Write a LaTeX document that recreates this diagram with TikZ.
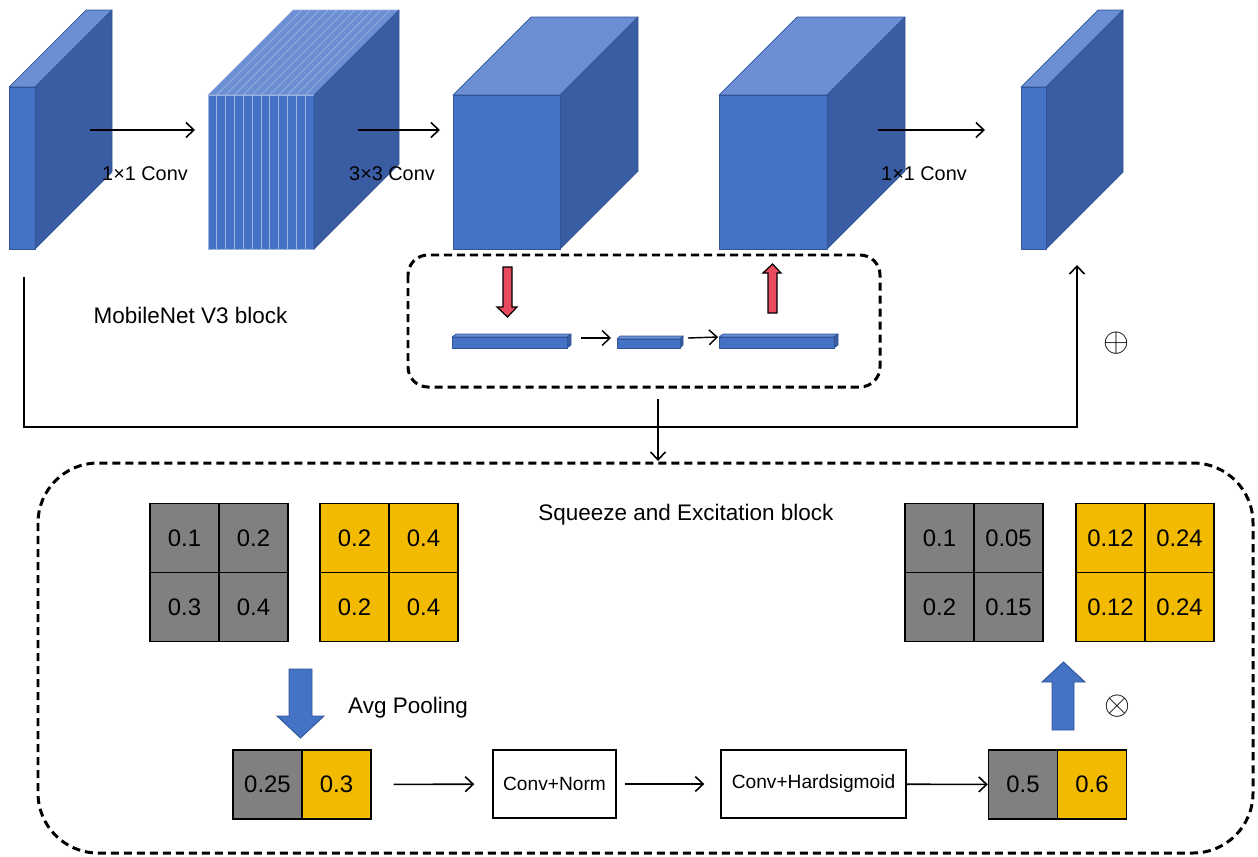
\documentclass[tikz,border=0pt]{standalone}
\usepackage{fontspec}
\setmainfont{Liberation Sans}
\usetikzlibrary{arrows.meta}

\definecolor{cubefront}{HTML}{4472C4}
\definecolor{cubetop}{HTML}{6B8ED5}
\definecolor{cubeside}{HTML}{3A5CA3}
\definecolor{cubeedge}{HTML}{2F5597}
\definecolor{layeredge}{HTML}{9DB4E0}
\definecolor{cellgray}{HTML}{808080}
\definecolor{cellgold}{HTML}{F2BA00}
\definecolor{arrowred}{HTML}{E84A5F}

\begin{document}
\begin{tikzpicture}[x=0.02cm,y=-0.02cm,
  >={Straight Barb[length=4.5pt,width=8.5pt]},
  conn/.style={->,line width=0.9pt},
  wire/.style={line width=0.9pt},
  front/.style={fill=cubefront,draw=cubeedge,line width=0.4pt,line join=round},
  top/.style={fill=cubetop,draw=cubeedge,line width=0.4pt,line join=round},
  side/.style={fill=cubeside,draw=cubeedge,line width=0.4pt,line join=round},
  layerfront/.style={fill=cubefront,draw=layeredge,line width=0.35pt},
  layertop/.style={fill=cubetop,draw=layeredge,line width=0.35pt},
  frame/.style={draw=black,dash pattern=on 4.6pt off 2.8pt,line width=1.7pt},
  fatred/.style={fill=arrowred,draw=black,line width=0.7pt,line join=miter},
  fatblue/.style={fill=cubefront,draw=cubeedge,line width=0.5pt},
  cell/.style={draw=black,line width=0.8pt,minimum width=1.38cm,minimum height=1.38cm,inner sep=0pt,font=\fontsize{13.6}{16}\selectfont},
  grey/.style={cell,fill=cellgray},
  gold/.style={cell,fill=cellgold},
  opbox/.style={draw=black,fill=white,line width=0.8pt,minimum height=1.36cm,inner sep=0pt,font=\fontsize{10.9}{13}\selectfont},
  convlabel/.style={anchor=base,font=\fontsize{11.3}{13}\selectfont},
  title/.style={anchor=base,font=\fontsize{12.8}{15}\selectfont},
  symb/.style={inner sep=0pt}]
\useasboundingbox (0,0) rectangle (1258,856);

% input slab
\filldraw[top] (9,87) -- (86,10) -- (112,10) -- (35,87) -- cycle;
\filldraw[side] (35,87) -- (112,10) -- (112,172) -- (35,249) -- cycle;
\filldraw[front] (9,87) rectangle (35,249);

% expanded layers
\filldraw[layertop] (208.0,95) -- (293.0,10) -- (301.8,10) -- (216.8,95) -- cycle;
\filldraw[layerfront] (208.0,95) rectangle (216.8,249);
\filldraw[layertop] (216.8,95) -- (301.8,10) -- (310.7,10) -- (225.7,95) -- cycle;
\filldraw[layerfront] (216.8,95) rectangle (225.7,249);
\filldraw[layertop] (225.7,95) -- (310.7,10) -- (319.5,10) -- (234.5,95) -- cycle;
\filldraw[layerfront] (225.7,95) rectangle (234.5,249);
\filldraw[layertop] (234.5,95) -- (319.5,10) -- (328.3,10) -- (243.3,95) -- cycle;
\filldraw[layerfront] (234.5,95) rectangle (243.3,249);
\filldraw[layertop] (243.3,95) -- (328.3,10) -- (337.2,10) -- (252.2,95) -- cycle;
\filldraw[layerfront] (243.3,95) rectangle (252.2,249);
\filldraw[layertop] (252.2,95) -- (337.2,10) -- (346.0,10) -- (261.0,95) -- cycle;
\filldraw[layerfront] (252.2,95) rectangle (261.0,249);
\filldraw[layertop] (261.0,95) -- (346.0,10) -- (354.8,10) -- (269.8,95) -- cycle;
\filldraw[layerfront] (261.0,95) rectangle (269.8,249);
\filldraw[layertop] (269.8,95) -- (354.8,10) -- (363.7,10) -- (278.7,95) -- cycle;
\filldraw[layerfront] (269.8,95) rectangle (278.7,249);
\filldraw[layertop] (278.7,95) -- (363.7,10) -- (372.5,10) -- (287.5,95) -- cycle;
\filldraw[layerfront] (278.7,95) rectangle (287.5,249);
\filldraw[layertop] (287.5,95) -- (372.5,10) -- (381.3,10) -- (296.3,95) -- cycle;
\filldraw[layerfront] (287.5,95) rectangle (296.3,249);
\filldraw[layertop] (296.3,95) -- (381.3,10) -- (390.2,10) -- (305.2,95) -- cycle;
\filldraw[layerfront] (296.3,95) rectangle (305.2,249);
\filldraw[layertop] (305.2,95) -- (390.2,10) -- (399.0,10) -- (314.0,95) -- cycle;
\filldraw[layerfront] (305.2,95) rectangle (314.0,249);
\filldraw[side] (314,95) -- (399,10) -- (399,164) -- (314,249) -- cycle;

% depthwise cube
\filldraw[top] (453,95) -- (531,17) -- (638,17) -- (560,95) -- cycle;
\filldraw[side] (560,95) -- (638,17) -- (638,171) -- (560,249) -- cycle;
\filldraw[front] (453,95) rectangle (560,249);

% reweighted cube
\filldraw[top] (719,95) -- (797,17) -- (905,17) -- (827,95) -- cycle;
\filldraw[side] (827,95) -- (905,17) -- (905,171) -- (827,249) -- cycle;
\filldraw[front] (719,95) rectangle (827,249);

% output slab
\filldraw[top] (1021,87) -- (1098,10) -- (1123,10) -- (1046,87) -- cycle;
\filldraw[side] (1046,87) -- (1123,10) -- (1123,172) -- (1046,249) -- cycle;
\filldraw[front] (1021,87) rectangle (1046,249);

% convolution arrows
\coordinate (exps) at (90,130);
\coordinate (expe) at (195,130);
\coordinate (dws) at (358,130);
\coordinate (dwe) at (440,130);
\coordinate (prjs) at (878,130);
\coordinate (prje) at (985,130);
\draw[conn] (exps) -- (expe);
\draw[conn] (dws) -- (dwe);
\draw[conn] (prjs) -- (prje);
\node[convlabel] (explbl) at (145,180) {1×1 Conv};
\node[convlabel] (dwlbl) at (392,180) {3×3 Conv};
\node[convlabel] (prjlbl) at (924,180) {1×1 Conv};

\node[title] (mbtitle) at (190.5,323) {MobileNet V3 block};

% SE branch inside the top frame
\draw[frame,rounded corners=0.4cm] (408,255) rectangle (880,387);
\filldraw[fatred] (503,267) -- (512,267) -- (512,307) -- (517,307) -- (507.5,317) -- (497,307) -- (503,307) -- cycle;
\filldraw[fatred] (768,313) -- (777,313) -- (777,273) -- (781,273) -- (772.5,264) -- (763,273) -- (768,273) -- cycle;
\filldraw[top] (452,337) -- (456,334) -- (571,334) -- (567,337) -- cycle;
\filldraw[side] (567,337) -- (571,334) -- (571,345) -- (567,348) -- cycle;
\filldraw[front] (452,337) rectangle (567,348);
\filldraw[top] (617,339) -- (620,336) -- (683,336) -- (680,339) -- cycle;
\filldraw[side] (680,339) -- (683,336) -- (683,345) -- (680,348) -- cycle;
\filldraw[front] (617,339) rectangle (680,348);
\filldraw[top] (719,337) -- (723,334) -- (838,334) -- (834,337) -- cycle;
\filldraw[side] (834,337) -- (838,334) -- (838,345) -- (834,348) -- cycle;
\filldraw[front] (719,337) rectangle (834,348);
\coordinate (sqs) at (581,338);
\coordinate (sqe) at (611,338);
\coordinate (exs) at (688,338);
\coordinate (exe) at (718,337);
\draw[conn,line width=0.8pt] (sqs) -- (sqe);
\draw[conn,line width=0.8pt] (exs) -- (exe);

% residual path
\coordinate (skipa) at (24,277);
\coordinate (skipb) at (1077,427);
\coordinate (skipc) at (1077,265);
\draw[wire,->] (skipa) |- (skipb) -- (skipc);
\node[symb] (addop) at (1116,343) {\scalebox{1.9}{$\oplus$}};

% link to the SE detail
\coordinate (dets) at (658,399);
\coordinate (dete) at (658,461);
\draw[conn] (dets) -- (dete);

% Squeeze and Excitation block
\draw[frame,rounded corners=1.2cm] (38,463) rectangle (1253,853);
\node[title] (setitle) at (686,520) {Squeeze and Excitation block};

\node[grey] (ga11) at (184.5,538) {0.1};
\node[grey] (ga12) at (253.5,538) {0.2};
\node[grey] (ga21) at (184.5,607) {0.3};
\node[grey] (ga22) at (253.5,607) {0.4};
\node[gold] (ya11) at (354.5,538) {0.2};
\node[gold] (ya12) at (423.5,538) {0.4};
\node[gold] (ya21) at (354.5,607) {0.2};
\node[gold] (ya22) at (423.5,607) {0.4};

\node[grey] (gb11) at (939.5,538) {0.1};
\node[grey] (gb12) at (1008.5,538) {0.05};
\node[grey] (gb21) at (939.5,607) {0.2};
\node[grey] (gb22) at (1008.5,607) {0.15};
\node[gold] (yb11) at (1110.5,538) {0.12};
\node[gold] (yb12) at (1179.5,538) {0.24};
\node[gold] (yb21) at (1110.5,607) {0.12};
\node[gold] (yb22) at (1179.5,607) {0.24};

% pooling
\filldraw[fatblue] (289,669) -- (312,669) -- (312,716) -- (324,716) -- (300.5,738) -- (277,716) -- (289,716) -- cycle;
\node[title,anchor=base west] (poollbl) at (342,713) {Avg Pooling};

\node[grey] (pg) at (267.5,784.5) {0.25};
\node[gold] (py) at (336.5,784.5) {0.3};
\node[opbox,minimum width=2.46cm] (cnorm) at (554.5,784) {Conv+Norm};
\node[opbox,minimum width=3.7cm] (chsig) at (813.5,784) {Conv+Hardsigmoid};
\node[grey] (wg) at (1023,784.5) {0.5};
\node[gold] (wy) at (1092,784.5) {0.6};
\draw[conn,shorten <=0.44cm,shorten >=0.36cm] (py) -- (cnorm);
\draw[conn,shorten <=0.16cm,shorten >=0.32cm] (cnorm) -- (chsig);
\draw[conn] (chsig) -- (wg);

% scale
\filldraw[fatblue] (1052,730) -- (1074,730) -- (1074,682) -- (1085,682) -- (1063.5,662) -- (1042,682) -- (1052,682) -- cycle;
\node[symb] (mulop) at (1117,706) {\scalebox{1.9}{$\otimes$}};
\end{tikzpicture}
\end{document}
